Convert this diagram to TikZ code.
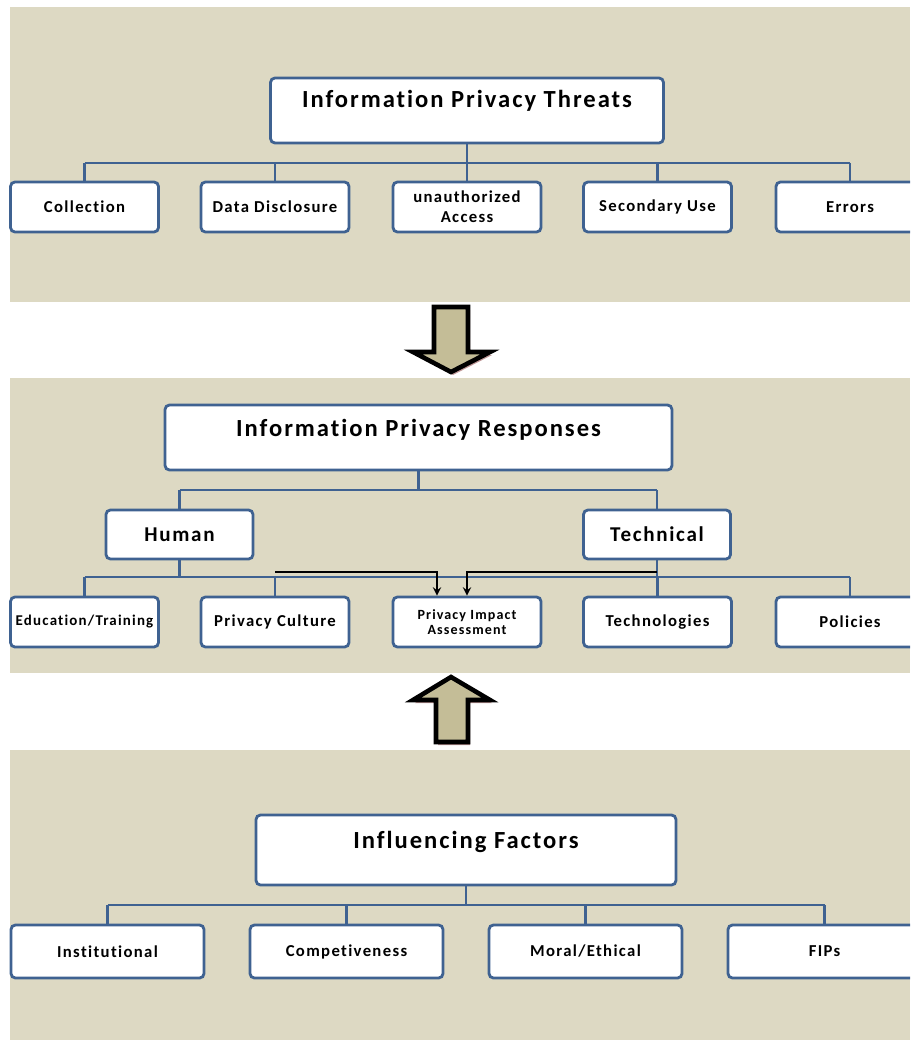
\documentclass[tikz,border=0pt]{standalone}
\usepackage{fontspec}
\setmainfont{Carlito}[LetterSpace = 8, Ligatures = NoCommon]
\usetikzlibrary{arrows}

\definecolor{paneltan}{RGB}{221,217,195}
\definecolor{boxblue}{RGB}{63,98,145}
\definecolor{arrowtan}{RGB}{196,189,151}
\definecolor{shadowpink}{RGB}{190,150,150}

\begin{document}
\begin{tikzpicture}[
        x = 0.02cm, y = -0.02cm, % one unit = one pixel, y goes down
        > = stealth, % arrow head style
        semithick, % line style
        box/.style = {draw = boxblue, fill = white, rounded corners = 2.5pt,
            line width = 1.6pt, inner sep = 0pt, align = center},
        title/.style = {box, font = \bfseries\fontsize{14}{16}\selectfont},
        item/.style = {box, minimum width = 2.96cm, minimum height = 1cm,
            font = \bfseries\fontsize{9.5}{10.5}\selectfont},
        factor/.style = {item, minimum width = 3.86cm, minimum height = 1.06cm},
        link/.style = {draw = boxblue, line width = 1.5pt},
        pia/.style = {->, black, line width = 1.1pt},
        blockarrow/.style = {draw = black, fill = arrowtan, line width = 2.6pt, line join = miter}
    ]

    \useasboundingbox (0,0) rectangle (910,1040);
    \clip (0,0) rectangle (910,1040);

    % panels
    \fill[paneltan] (10,7) rectangle (910,302);
    \fill[paneltan] (10,378) rectangle (910,673);
    \fill[paneltan] (10,750) rectangle (910,1040);

    % threats
    \node[title, minimum width = 7.86cm, text height = 0.6cm, text depth = 0.7cm] (t) at (467,110.5) {Information Privacy Threats};
    \node[item] (t1) at (84.5,207) {Collection};
    \node[item] (t2) at (275,207) {Data Disclosure};
    \node[item] (t3) at (467,207) {unauthorized\\[1pt]Access};
    \node[item] (t4) at (657.5,207) {Secondary Use};
    \node[item] (t5) at (850,207) {Errors};

    \coordinate (tb) at (467,163);
    \draw[link] (t.south) -- (tb);
    \draw[link] (tb -| t1) -- (tb -| t5);
    \foreach \i in {1,...,5}
        \draw[link] (tb -| t\i) -- (t\i.north);

    % arrow down
    \fill[shadowpink, shift = {(2,3)}] (434,307) -- (468,307) -- (468,352) -- (490,352) -- (451,372) -- (413,352) -- (434,352) -- cycle;
    \draw[blockarrow] (434,307) -- (468,307) -- (468,352) -- (490,352) -- (451,372) -- (413,352) -- (434,352) -- cycle;

    % responses
    \node[title, minimum width = 10.14cm, text height = 0.62cm, text depth = 0.68cm] (r) at (418.5,437.5) {Information Privacy Responses};
    \node[title, font = \bfseries\fontsize{12}{14}\selectfont, minimum width = 2.94cm, minimum height = 0.98cm] (h) at (179.5,534.5) {Human};
    \node[title, font = \bfseries\fontsize{12}{14}\selectfont, minimum width = 2.94cm, minimum height = 0.98cm] (tc) at (657,534.5) {Technical};
    \node[item, font = \bfseries\fontsize{8.5}{10}\selectfont] (r1) at (84.5,622) {Education/Training};
    \node[item] (r2) at (275,622) {Privacy Culture};
    \node[item, font = \bfseries\fontsize{8}{8.5}\selectfont] (r3) at (467,622) {Privacy Impact\\Assessment};
    \node[item] (r4) at (657.5,622) {Technologies};
    \node[item] (r5) at (850,622) {Policies};

    \coordinate (rb) at (418.5,490);
    \coordinate (hb) at (179.5,577);
    \coordinate (pb) at (179.5,572);
    \draw[link] (r.south) -- (rb);
    \draw[link] (rb -| h) -- (rb -| tc);
    \draw[link] (rb -| h) -- (h.north);
    \draw[link] (rb -| tc) -- (tc.north);
    \draw[link] (h.south) -- (hb);
    \draw[link] (tc.south) -- (hb -| tc);
    \draw[link] (hb -| r1) -- (hb -| r5);
    \foreach \i in {1,2,4,5}
        \draw[link] (hb -| r\i) -- (r\i.north);
    \draw[pia] (pb -| r2) -| ([xshift = -0.6cm]r3.north);
    \draw[pia] (pb -| tc) -| (r3.north);

    % arrow up
    \fill[shadowpink, shift = {(2,3)}] (436,742) -- (468,742) -- (468,700) -- (490,700) -- (451,677) -- (413,700) -- (436,700) -- cycle;
    \draw[blockarrow] (436,742) -- (468,742) -- (468,700) -- (490,700) -- (451,677) -- (413,700) -- (436,700) -- cycle;

    % factors
    \node[title, minimum width = 8.4cm, text height = 0.66cm, text depth = 0.74cm] (f) at (466,850) {Influencing Factors};
    \node[factor] (f1) at (107.5,951.5) {Institutional};
    \node[factor] (f2) at (346.5,951.5) {Competiveness};
    \node[factor] (f3) at (585.5,951.5) {Moral/Ethical};
    \node[factor] (f4) at (824.5,951.5) {\raisebox{-2pt}{FIPs}};

    \coordinate (fb) at (466,905);
    \draw[link] (f.south) -- (fb);
    \draw[link] (fb -| f1) -- (fb -| f4);
    \foreach \i in {1,...,4}
        \draw[link] (fb -| f\i) -- (f\i.north);
\end{tikzpicture}
\end{document}
